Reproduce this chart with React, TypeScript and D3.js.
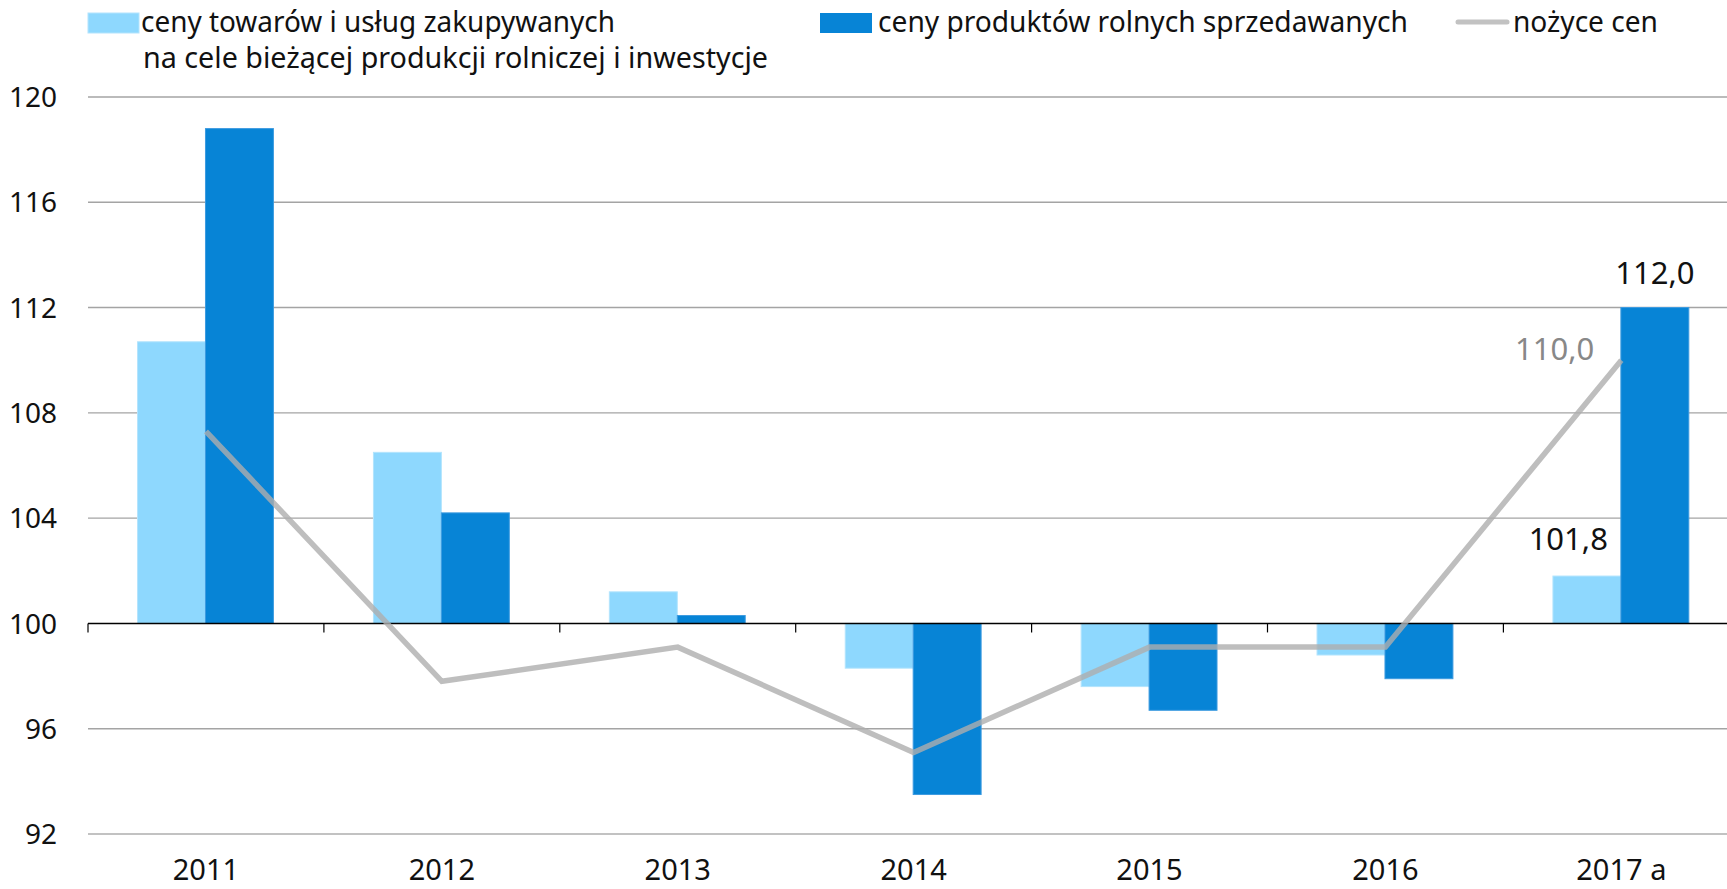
import React from "react";
import * as d3 from "d3";

const categories = ["2011", "2012", "2013", "2014", "2015", "2016", "2017 a"];
const purchased = [110.7, 106.5, 101.2, 98.3, 97.6, 98.8, 101.8];
const sold = [118.8, 104.2, 100.3, 93.5, 96.7, 97.9, 112.0];
const scissors = [107.3, 97.8, 99.1, 95.1, 99.1, 99.1, 110.0];
const yTicks = [92, 96, 100, 104, 108, 112, 116, 120];
const seriesNames = ["ceny towarów i usług zakupywanych", "ceny produktów rolnych sprzedawanych", "nożyce cen"];
const legendLine2 = "na cele bieżącej produkcji rolniczej i inwestycje";

const W = 1727;
const H = 889;
const FONT = "'Noto Sans', 'Open Sans', sans-serif";
const LIGHT = "#8ed8fe";
const DARK = "#0784d6";
const GRAY = "#aeaeae";

export default function App() {
  const x0 = 88;
  const bw = 235.9;
  const x = d3.scaleBand<string>().domain(categories).range([x0, x0 + bw * categories.length]).padding(0);
  const x1 = d3.scaleBand<string>().domain(["p", "s"]).range([bw * 0.21, bw * 0.786]).padding(0);
  const y = d3.scaleLinear().domain([92, 120]).range([834, 97]);
  const base = y(100);

  const line = d3
    .line<number>()
    .x((_, i) => (x(categories[i]) as number) + bw / 2)
    .y((d) => y(d));

  const bar = (v: number) => ({ y: Math.min(y(v), base), h: Math.abs(y(v) - base) });

  const last = categories.length - 1;
  const lastX = x(categories[last]) as number;

  return (
    <svg width={W} height={H} style={{ position: "absolute", left: 0, top: 0, background: "#fff" }} fontFamily={FONT}>
      {/* gridlines */}
      {yTicks.filter((t) => t !== 100).map((t) => (
        <line key={t} x1={x0} x2={W} y1={y(t)} y2={y(t)} stroke={t === 92 ? "#c2c2c2" : "#a4a4a4"} strokeWidth={t === 92 ? 2.2 : 1.4} />
      ))}
      {/* y labels */}
      {yTicks.map((t) => (
        <text key={t} x={57} y={y(t)} dy="0.36em" textAnchor="end" fontSize={28} fill="#111">
          {t}
        </text>
      ))}
      {/* bars */}
      {categories.map((c, i) => {
        const bx = x(c) as number;
        const a = bar(purchased[i]);
        const b = bar(sold[i]);
        return (
          <g key={c}>
            <rect x={bx + (x1("p") as number)} y={a.y} width={x1.bandwidth()} height={a.h} fill={LIGHT} stroke="#b3e4fd" strokeWidth={1} />
            <rect x={bx + (x1("s") as number)} y={b.y} width={x1.bandwidth()} height={b.h} fill={DARK} stroke="#3d9be0" strokeWidth={1} />
          </g>
        );
      })}
      {/* axis at 100 */}
      <line x1={x0} x2={W} y1={base} y2={base} stroke="#000" strokeWidth={1.6} />
      {categories.map((c) => (
        <line key={c} x1={x(c) as number} x2={x(c) as number} y1={base} y2={base + 9} stroke="#000" strokeWidth={1.2} />
      ))}
      {/* x labels */}
      {categories.map((c) => (
        <text key={c} x={(x(c) as number) + bw / 2} y={880} textAnchor="middle" fontSize={29} fill="#111">
          {c}
        </text>
      ))}
      {/* scissors line */}
      <path d={line(scissors) || ""} fill="none" stroke={GRAY} strokeOpacity={0.8} strokeWidth={5.5} strokeLinejoin="miter" />
      {/* data labels */}
      <text x={lastX + (x1("s") as number) + x1.bandwidth() / 2} y={y(sold[last]) - 24} textAnchor="middle" fontSize={31} fill="#111">
        {sold[last].toFixed(1).replace(".", ",")}
      </text>
      <text x={lastX + (x1("s") as number) - 13} y={y(purchased[last]) - 26} textAnchor="end" fontSize={31} fill="#111">
        {purchased[last].toFixed(1).replace(".", ",")}
      </text>
      <text x={lastX + bw / 2 - 27} y={y(scissors[last])} textAnchor="end" fontSize={31} fill="#888">
        {scissors[last].toFixed(1).replace(".", ",")}
      </text>
      {/* legend */}
      <rect x={88} y={13} width={51} height={20} fill={LIGHT} stroke="#b3e4fd" />
      <text x={141} y={32} fontSize={29} fill="#111" textLength={474} lengthAdjust="spacingAndGlyphs">
        {seriesNames[0]}
      </text>
      <text x={143} y={68} fontSize={29} fill="#111" textLength={625} lengthAdjust="spacingAndGlyphs">
        {legendLine2}
      </text>
      <rect x={820} y={13} width={52} height={20} fill={DARK} />
      <text x={878} y={32} fontSize={29} fill="#111" textLength={530} lengthAdjust="spacingAndGlyphs">
        {seriesNames[1]}
      </text>
      <line x1={1458} x2={1507} y1={22} y2={22} stroke="#c2c2c2" strokeWidth={5} strokeLinecap="round" />
      <text x={1513} y={32} fontSize={29} fill="#111" textLength={145} lengthAdjust="spacingAndGlyphs">
        {seriesNames[2]}
      </text>
    </svg>
  );
}
